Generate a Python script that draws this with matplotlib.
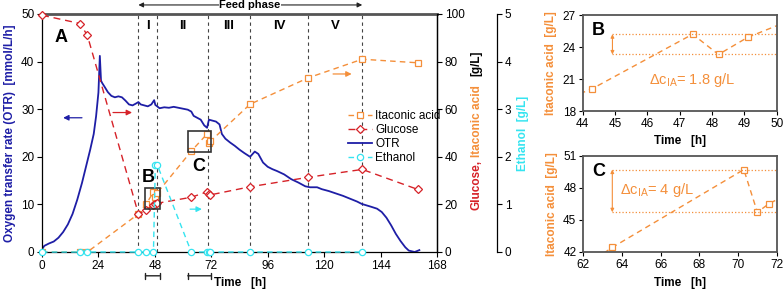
import numpy as np
import matplotlib.pyplot as plt
from matplotlib.patches import Rectangle

plt.rcParams['font.family'] = ['Liberation Sans', 'DejaVu Sans']
plt.rcParams['font.size'] = 8.5
plt.rcParams['axes.linewidth'] = 0.9

# sampling times [h] and offline measurements
t_s = [0, 16.2, 19.3, 41, 44.3, 47.4, 48.2, 49.1, 63.5, 70.3, 71.0, 71.6, 88.5, 113.3, 136.2, 159.8]
itaconic = [0, 0, 0, 16, 20.1, 25.2, 23.3, 24.9, 42.4, 49.7, 45.7, 46.5, 62.1, 73.2, 81.0, 79.5]
glucose = [99.5, 96, 91, 16, 17.5, 19.8, 20.3, 20.5, 23, 25.3, 24.5, 24, 27.4, 31.4, 34.7, 26.3]
t_eth = [0, 16.2, 19.3, 41, 44.3, 47.4, 48.2, 49.1, 63.5, 70.3, 71.0, 71.6, 88.5, 113.3, 136.2]
ethanol = [0, 0, 0, 0, 0, 0, 1.83, 1.82, 0, 0, 0, 0, 0, 0, 0]

# online OTR signal
otr_t = [0, 1, 3, 5, 7, 9, 11, 13, 15, 17, 19, 20.5, 22, 23, 24, 24.6, 25.1, 25.6, 26.5,
         28, 29.5, 31, 32.5, 34, 35.5, 37, 38.5, 40, 41, 42, 43.5, 45, 46.5, 47.7, 48.2,
         49, 50, 52, 54, 56, 58, 60, 62, 63.5, 64.5, 66, 67.5, 69, 70.2, 71, 72.5, 74,
         75.5, 76.5, 78, 80, 82, 84, 86, 88.5, 90.5, 92, 94, 96, 98, 100, 103, 106, 109,
         112, 114, 117, 119, 122, 125, 128, 131, 134, 136, 138, 140, 142.5, 144.5, 146.5,
         148.5, 150.5, 152.5, 154.5, 156, 158.5, 160.5]
otr_v = [0.6, 1.3, 1.8, 2.2, 3.0, 4.2, 5.8, 8.0, 11.0, 14.5, 18.5, 21.5, 24.8, 28.5, 33.5,
         41.2, 36.0, 35.5, 34.8, 33.6, 32.8, 32.5, 32.7, 32.5, 31.8, 31.0, 30.8, 31.2, 31.5,
         31.0, 30.8, 30.6, 31.0, 31.9, 30.9, 30.6, 30.2, 30.4, 30.3, 30.5, 30.3, 30.1, 29.9,
         29.5, 28.6, 28.2, 27.8, 26.6, 26.1, 27.8, 27.6, 27.4, 26.8, 24.8, 23.8, 23.0, 22.3,
         21.5, 20.8, 20.0, 21.1, 20.6, 18.8, 17.9, 17.4, 17.0, 16.3, 15.3, 14.6, 13.8, 13.6,
         13.6, 13.2, 12.8, 12.3, 11.8, 11.2, 10.6, 10.1, 9.8, 9.5, 9.1, 8.4, 7.2, 5.6, 3.8,
         2.3, 1.0, 0.3, 0.0, 0.4]

phase_bounds = [41, 49.1, 70.5, 88.5, 113.3, 136.2]
phase_names = ['I', 'II', 'III', 'IV', 'V']
b_xlim, b_ylim = [44, 50], [18, 27]
c_xlim, c_ylim = [62, 72], [42, 51]

blue = '#1e1ea6'
red = '#d62228'
orange = '#f48f3a'
cyan = '#35e4f0'

W, H = 784, 290
def box(l, t, r, b):
    return [l / W, 1 - b / H, (r - l) / W, (b - t) / H]

fig = plt.figure(figsize=(7.84, 2.9), dpi=100)
ax = fig.add_axes(box(42, 14, 437, 252))
ax2 = ax.twinx()
ax3 = ax.twinx()
ax3.spines['right'].set_position(('axes', (497 - 42) / 395))

ia_style = dict(color=orange, lw=1, ls=(0, (4, 3)), marker='s', ms=4.3, mfc='white', mew=0.9)
l_otr, = ax.plot(otr_t, otr_v, color=blue, lw=1.3, label='OTR')
l_ia, = ax2.plot(t_s, itaconic, label='Itaconic acid', **ia_style)
l_glc, = ax2.plot(t_s, glucose, color=red, lw=1, ls=(0, (5, 3.5)), marker='D', ms=4,
                  mfc='white', mew=0.9, label='Glucose', clip_on=False)
l_eth, = ax3.plot(t_eth, ethanol, color=cyan, lw=1, ls=(0, (4, 3)), marker='o', ms=4.5,
                  mfc='white', mew=0.9, label='Ethanol', clip_on=False)

for xb in phase_bounds:
    ax.axvline(xb, color='#444444', lw=0.8, ls=(0, (3, 3)), zorder=1)
for i, name in enumerate(phase_names):
    ax.text((phase_bounds[i] + phase_bounds[i + 1]) / 2, 0.95, name, transform=ax.get_xaxis_transform(),
            ha='center', va='center', fontsize=9.5, fontweight='bold')

ax.annotate('', xy=(phase_bounds[0], 1.038), xytext=(phase_bounds[-1], 1.038),
            xycoords=ax.get_xaxis_transform(), annotation_clip=False,
            arrowprops=dict(arrowstyle='<|-|>', lw=0.8, color='#222222', mutation_scale=7,
                            shrinkA=0, shrinkB=0))
ax.text(88.5, 1.038, 'Feed phase', transform=ax.get_xaxis_transform(), ha='center', va='center',
        fontsize=8, fontweight='bold', bbox=dict(fc='white', ec='none', pad=0.5))

ax.set_xlim(0, 168)
ax.set_xticks(range(0, 169, 24))
ax.set_ylim(0, 50)
ax.set_yticks(range(0, 51, 10))
ax2.set_ylim(0, 100)
ax2.set_yticks(range(0, 101, 20))
ax3.set_ylim(0, 5)
ax3.set_yticks(range(0, 6))

for a in (ax, ax2, ax3):
    a.tick_params(direction='out', length=3.5, width=0.8, labelsize=8.5, pad=2)
ax.spines['top'].set_color('#555555')
ax.spines['top'].set_linewidth(2)
for s in ('top', 'left', 'bottom'):
    ax3.spines[s].set_visible(False)
    ax2.spines[s].set_visible(False)

ax.set_xlabel('Time   [h]', fontweight='bold')
ax.xaxis.set_label_coords(0.5, -0.105)
ax.set_ylabel('Oxygen transfer rate (OTR)  [mmol/L/h]', color=blue, fontweight='bold')
ax.yaxis.set_label_coords(-0.066, 0.5)
ax3.set_ylabel('Ethanol  [g/L]', color=cyan, fontweight='bold')
ax3.yaxis.set_label_coords(1.203, 0.5)

t1 = ax.text(1.10, 0.176, 'Glucose,', transform=ax.transAxes, rotation=90, ha='center',
             va='bottom', color=red, fontweight='bold')
t2 = ax.annotate('Itaconic acid', xy=(0.5, 1), xycoords=t1, xytext=(0, 2.5),
                 textcoords='offset points', rotation=90, ha='center', va='bottom',
                 color=orange, fontweight='bold')
ax.annotate('[g/L]', xy=(0.5, 1), xycoords=t2, xytext=(0, 6), textcoords='offset points',
            rotation=90, ha='center', va='bottom', color='black', fontweight='bold')

# axis arrows
def arrow(x0, x1, y, c):
    ax.annotate('', xy=(x1, y), xytext=(x0, y),
                arrowprops=dict(arrowstyle='-|>', color=c, lw=0.9, mutation_scale=8,
                                shrinkA=0, shrinkB=0))
arrow(17, 9, 28.2, blue)
arrow(30.2, 38.3, 29.3, red)
arrow(123.8, 131.7, 37.4, orange)
arrow(63, 68, 9.0, cyan)

# zoom boxes and labels
for xl, yl in ((b_xlim, b_ylim), (c_xlim, c_ylim)):
    ax2.add_patch(Rectangle((xl[0], yl[0]), xl[1] - xl[0], yl[1] - yl[0], fill=False,
                            ec='#333333', lw=1.2, zorder=5))
    ax.annotate('', xy=(xl[0], -0.1), xytext=(xl[1], -0.1), xycoords=ax.get_xaxis_transform(),
                annotation_clip=False,
                arrowprops=dict(arrowstyle='|-|, widthA=0.25, widthB=0.25', lw=1,
                                color='#222222', shrinkA=0, shrinkB=0))
ax.text(8, 45, 'A', fontsize=13, fontweight='bold', ha='center', va='center')
ax.text(45.1, 15.6, 'B', fontsize=13, fontweight='bold', ha='center', va='center')
ax.text(66.7, 18.0, 'C', fontsize=13, fontweight='bold', ha='center', va='center')

ax3.legend(handles=[l_ia, l_glc, l_otr, l_eth], loc='upper left', bbox_to_anchor=(0.775, 0.595),
           frameon=False, fontsize=8.5, handlelength=2, handletextpad=0.3, labelspacing=0.15,
           borderpad=0, borderaxespad=0)

# insets
axB = fig.add_axes(box(582.7, 15, 776.7, 111))
axC = fig.add_axes(box(583.3, 155.7, 776.7, 251.7))
for a, xl, yl, xt, yt, letter in ((axB, b_xlim, b_ylim, range(44, 51), range(18, 28, 3), 'B'),
                                  (axC, c_xlim, c_ylim, range(62, 73, 2), range(42, 52, 3), 'C')):
    a.plot(t_s, itaconic, **ia_style)
    a.set_xlim(xl)
    a.set_ylim(yl)
    a.set_xticks(xt)
    a.set_yticks(yt)
    a.tick_params(direction='out', length=3, width=0.8, labelsize=8.5, pad=2)
    for s in a.spines.values():
        s.set_color('#555555')
        s.set_linewidth(1.3)
    a.set_xlabel('Time   [h]', fontweight='bold')
    a.set_ylabel('Itaconic acid  [g/L]', color=orange, fontweight='bold')
    a.yaxis.set_label_coords(-0.132, 0.5)
    a.text(0.079, 0.84, letter, transform=a.transAxes, fontsize=13, fontweight='bold',
           ha='center', va='center')
axB.xaxis.set_label_coords(0.5, -0.25)
axC.xaxis.set_label_coords(0.5, -0.264)

def delta(a, x, lo, hi, x_end, tx, ty, txt):
    a.plot([x, x_end], [hi, hi], color=orange, lw=0.9, ls=':')
    a.plot([x, x_end], [lo, lo], color=orange, lw=0.9, ls=':')
    a.annotate('', xy=(x, hi), xytext=(x, lo),
               arrowprops=dict(arrowstyle='<|-|>', color=orange, lw=0.8, mutation_scale=5,
                               shrinkA=0, shrinkB=0))
    a.text(tx, ty, txt, color=orange, fontsize=10.5, ha='center', va='center')

delta(axB, 44.92, itaconic[6], itaconic[5], 50, 47.38, 20.9, 'Δc$_\\mathregular{IA}$= 1.8 g/L')
delta(axC, 63.5, itaconic[10], itaconic[9], 72, 65.8, 47.8, 'Δc$_\\mathregular{IA}$= 4 g/L')

fig.savefig('out.png', dpi=100)
